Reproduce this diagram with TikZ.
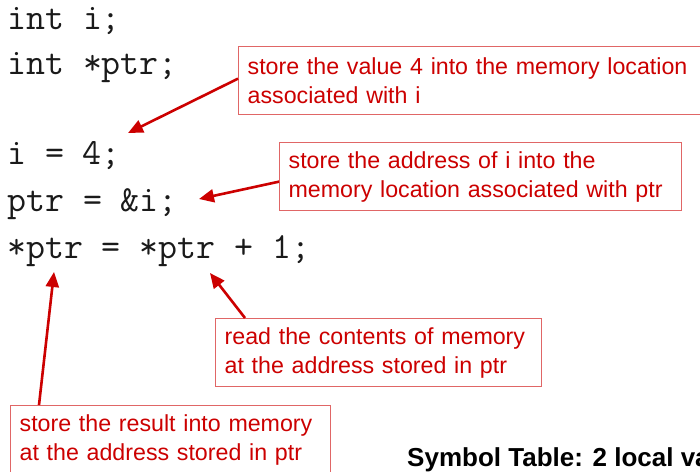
\documentclass[tikz,border=0pt]{standalone}
\usepackage{fontspec}
\setmainfont{Liberation Sans}
\usetikzlibrary{arrows.meta,calc}
\definecolor{txtred}{HTML}{CC0000}
\definecolor{boxred}{HTML}{E06666}
\definecolor{codeink}{HTML}{1A1A1A}
\tikzset{
  codeline/.style={anchor=base west,inner sep=0pt,text=codeink,font=\ttfamily\fontsize{36.8}{41}\selectfont},
  rbox/.style={anchor=north west,draw=boxred,line width=1.3pt,text=txtred,
    font=\fontsize{23.2}{29}\selectfont,align=left,inner xsep=9pt,inner ysep=0pt,minimum height=68pt},
  rarrow/.style={draw=txtred,line width=2.6pt,-{Triangle[length=15pt,width=13pt]}},
}
\begin{document}
\begin{tikzpicture}[x=1pt,y=-1pt]
\clip (0,0) rectangle (700,471);
\fill[white] (0,0) rectangle (700,471);
% code
\node[codeline] (c1) at (7,29.5) {int i;};
\node[codeline] (c2) at (7,74) {int *ptr;};
\node[codeline] (c3) at (7,164.5) {i = 4;};
\node[codeline] (c4) at (7,211.5) {ptr = \&i;};
\node[codeline] (c5) at (7,258) {*ptr = *ptr + 1;};
% boxes
\node[rbox,text width=470pt] (b1) at (238,46) {\mbox{store the value 4 into the memory location}\\\mbox{associated with i}};
\node[rbox,text width=384pt] (b2) at (279,142) {\mbox{store the address of i into the}\\\mbox{memory location associated with ptr}};
\node[rbox,text width=308pt] (b3) at (215,318) {\mbox{read the contents of memory}\\\mbox{at the address stored in ptr}};
\node[rbox,text width=302pt] (b4) at (10,405) {\mbox{store the result into memory}\\\mbox{at the address stored in ptr}};
% arrow tips
\coordinate (t1) at (128,133);
\coordinate (t2) at (199,199);
\coordinate (t3) at (54,272);
\coordinate (t4) at (210,273);
\draw[rarrow] ($(b1.west)+(0,-2)$) -- (t1);
\draw[rarrow] ($(b2.west)+(0,5)$) -- (t2);
\draw[rarrow] ($(b4.north west)+(29,0)$) -- (t3);
\draw[rarrow] ($(b3.north west)+(30,0)$) -- (t4);
% symbol table
\node[anchor=base west,inner sep=0pt,font=\bfseries\fontsize{26}{30}\selectfont] (sym) at (407,466) {Symbol Table: 2 local variables};
\end{tikzpicture}
\end{document}
